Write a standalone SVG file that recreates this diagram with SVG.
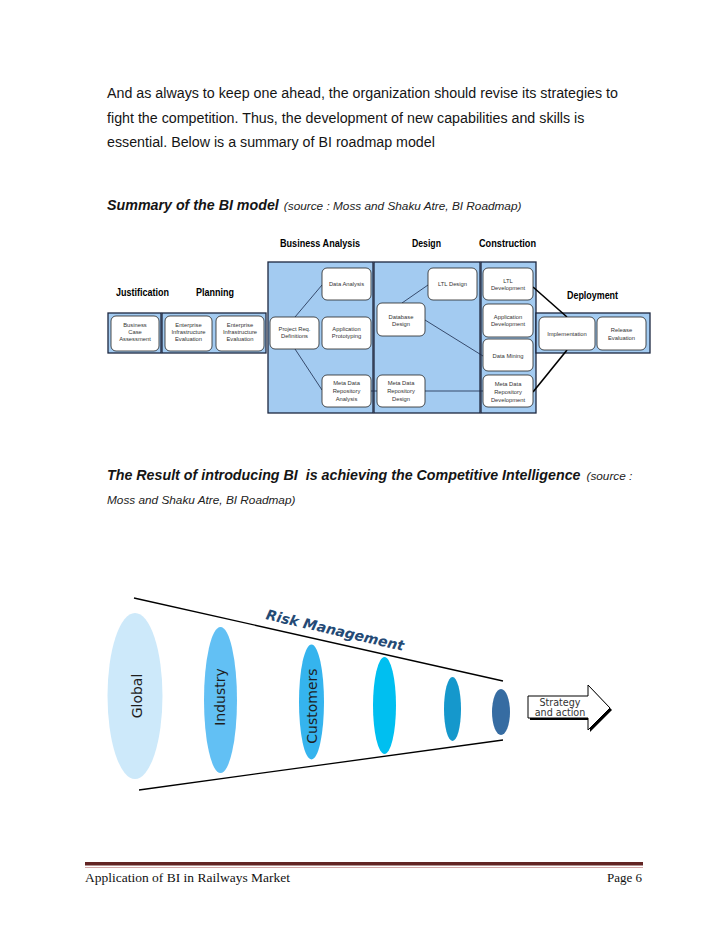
<svg xmlns="http://www.w3.org/2000/svg" width="728" height="942" viewBox="0 0 728 942">
<style>
.body{font-family:"Liberation Sans",Arial,sans-serif;font-size:14.25px;fill:#151515}
.cap{font-family:"Liberation Sans",Arial,sans-serif;font-weight:bold;font-style:italic;font-size:14.25px;fill:#151515}
.src{font-family:"Liberation Sans",Arial,sans-serif;font-style:italic;font-size:11.8px;fill:#222}
.hdr{font-family:"Liberation Sans",Arial,sans-serif;font-weight:bold;font-size:10px;fill:#000}
.panel{fill:#a3cbf1;stroke:#1c2740;stroke-width:1.3}
.node rect{fill:#fff;stroke:#222;stroke-width:0.8}
.node text{font-family:"Liberation Sans",Arial,sans-serif;font-size:5.8px;fill:#333;text-anchor:middle}
.conn line{stroke:#1a2a4a;stroke-width:0.8}
.conn line.thick{stroke:#000;stroke-width:1.6}
.cone{stroke:#000;stroke-width:1.3}
.lab{font-family:"DejaVu Sans",Verdana,sans-serif;font-size:14px;fill:#1e1e1e;text-anchor:middle}
.foot{font-family:"Liberation Serif","DejaVu Serif",serif;font-size:13px;fill:#111}
</style>

<!-- intro paragraph -->
<text class="body" x="107" y="98">And as always to keep one ahead, the organization should revise its strategies to</text>
<text class="body" x="107" y="123">fight the competition. Thus, the development of new capabilities and skills is</text>
<text class="body" x="107" y="147">essential. Below is a summary of BI roadmap model</text>

<text x="107" y="210"><tspan class="cap">Summary of the BI model</tspan><tspan class="src" dx="5">(source : Moss and Shaku Atre, BI Roadmap)</tspan></text>

<!-- BI model panels -->
<g id="panels">
<rect class="panel" x="108" y="313" width="53" height="40"/>
<rect class="panel" x="162" y="313" width="104" height="40"/>
<rect class="panel" x="268" y="262" width="105" height="151"/>
<rect class="panel" x="374" y="262" width="106" height="151"/>
<rect class="panel" x="481" y="262" width="55" height="151"/>
<rect class="panel" x="536" y="313" width="114" height="40"/>
</g>

<g id="headers">
<text class="hdr" x="116" y="296" textLength="53" lengthAdjust="spacingAndGlyphs">Justification</text>
<text class="hdr" x="196" y="296" textLength="38" lengthAdjust="spacingAndGlyphs">Planning</text>
<text class="hdr" x="280" y="247" textLength="80" lengthAdjust="spacingAndGlyphs">Business Analysis</text>
<text class="hdr" x="412" y="247" textLength="29" lengthAdjust="spacingAndGlyphs">Design</text>
<text class="hdr" x="479" y="247" textLength="57" lengthAdjust="spacingAndGlyphs">Construction</text>
<text class="hdr" x="567" y="299" textLength="51" lengthAdjust="spacingAndGlyphs">Deployment</text>
</g>

<g id="connectors" class="conn">
<line x1="295" y1="317" x2="322" y2="285"/>
<line x1="295" y1="349" x2="322" y2="390"/>
<line x1="402" y1="303" x2="428" y2="285"/>
<line x1="425" y1="320" x2="483" y2="356"/>
<line x1="371" y1="391" x2="377" y2="391"/>
<line x1="425" y1="391" x2="483" y2="391"/>
<line class="thick" x1="533" y1="287" x2="567" y2="317"/>
<line class="thick" x1="533" y1="392" x2="567" y2="350"/>
</g>

<g id="n-bca" class="node"><rect x="111" y="316" width="48" height="35" rx="5"/><text x="135" y="327">Business</text><text x="135" y="334">Case</text><text x="135" y="341">Assessment</text></g>
<g id="n-eie1" class="node"><rect x="165" y="316" width="47" height="35" rx="5"/><text x="188.5" y="327">Enterprise</text><text x="188.5" y="334">Infrastructure</text><text x="188.5" y="341">Evaluation</text></g>
<g id="n-eie2" class="node"><rect x="216" y="316" width="48" height="35" rx="5"/><text x="240" y="327">Enterprise</text><text x="240" y="334">Infrastructure</text><text x="240" y="341">Evaluation</text></g>
<g id="n-prd" class="node"><rect x="270" y="317" width="49" height="32" rx="5"/><text x="294.5" y="331">Project Req.</text><text x="294.5" y="338">Definitions</text></g>
<g id="n-da" class="node"><rect x="322" y="268" width="49" height="32" rx="5"/><text x="346.5" y="286">Data Analysis</text></g>
<g id="n-ap" class="node"><rect x="322" y="317" width="49" height="32" rx="5"/><text x="346.5" y="331">Application</text><text x="346.5" y="338">Prototyping</text></g>
<g id="n-mdra" class="node"><rect x="322" y="375" width="49" height="32" rx="5"/><text x="346.5" y="385">Meta Data</text><text x="346.5" y="393">Repository</text><text x="346.5" y="401">Analysis</text></g>
<g id="n-dd" class="node"><rect x="377" y="303" width="48" height="33" rx="5"/><text x="401" y="319">Database</text><text x="401" y="326">Design</text></g>
<g id="n-ltld" class="node"><rect x="428" y="268" width="49" height="32" rx="5"/><text x="452.5" y="286">LTL Design</text></g>
<g id="n-mdrd" class="node"><rect x="377" y="375" width="48" height="32" rx="5"/><text x="401" y="385">Meta Data</text><text x="401" y="393">Repository</text><text x="401" y="401">Design</text></g>
<g id="n-ltldev" class="node"><rect x="483" y="268" width="50" height="32" rx="5"/><text x="508" y="283">LTL</text><text x="508" y="290">Development</text></g>
<g id="n-appdev" class="node"><rect x="483" y="304" width="50" height="33" rx="5"/><text x="508" y="319">Application</text><text x="508" y="326">Development</text></g>
<g id="n-dm" class="node"><rect x="483" y="339" width="50" height="32" rx="5"/><text x="508" y="358">Data Mining</text></g>
<g id="n-mdrdev" class="node"><rect x="483" y="375" width="50" height="32" rx="5"/><text x="508" y="386">Meta Data</text><text x="508" y="394">Repository</text><text x="508" y="402">Development</text></g>
<g id="n-impl" class="node"><rect x="539" y="317" width="56" height="33" rx="5"/><text x="567" y="336">Implementation</text></g>
<g id="n-rel" class="node"><rect x="597" y="317" width="49" height="33" rx="5"/><text x="621.5" y="332">Release</text><text x="621.5" y="340">Evaluation</text></g>

<!-- second caption -->
<text x="107" y="480" xml:space="preserve"><tspan class="cap">The Result of introducing BI  is achieving the Competitive Intelligence</tspan><tspan class="src" dx="6">(source :</tspan></text>
<text class="src" x="107" y="504">Moss and Shaku Atre, BI Roadmap)</text>

<!-- cone -->
<g id="cone-lines">
<line class="cone" x1="134" y1="598" x2="503" y2="681"/>
<line class="cone" x1="139" y1="790" x2="503" y2="740"/>
</g>
<text transform="translate(334,635) rotate(13)" font-family="DejaVu Sans,Verdana,sans-serif" font-weight="bold" font-style="italic" font-size="14" fill="#244a75" text-anchor="middle">Risk Management</text>

<g id="e-global"><ellipse cx="135" cy="696" rx="27.5" ry="83" fill="#cde9fa"/><text class="lab" transform="translate(142,696) rotate(-90)">Global</text></g>
<g id="e-industry"><ellipse cx="220.5" cy="700" rx="16.5" ry="73" fill="#62c0f4"/><text class="lab" transform="translate(225,697) rotate(-90)">Industry</text></g>
<g id="e-customers"><ellipse cx="311.5" cy="702" rx="12.5" ry="57.5" fill="#35b4ee"/><text class="lab" transform="translate(317,706) rotate(-90)">Customers</text></g>
<g id="e-4"><ellipse cx="384.5" cy="705.5" rx="11.5" ry="48.5" fill="#00bff0"/></g>
<g id="e-5"><ellipse cx="452.5" cy="709" rx="8.5" ry="32" fill="#1598cc"/></g>
<g id="e-6"><ellipse cx="501" cy="712" rx="9" ry="23" fill="#366ca2"/></g>

<g id="arrow">
<polygon points="530,698 590,698 590,687 612,710 590,732 590,720 530,720" fill="#000"/>
<polygon points="528,696 588,696 588,685 610,708 588,730 588,718 528,718" fill="#fff" stroke="#000" stroke-width="1"/>
<text x="560" y="706" font-family="DejaVu Sans,Verdana,sans-serif" font-size="9.6" fill="#333" text-anchor="middle">Strategy</text>
<text x="560" y="716" font-family="DejaVu Sans,Verdana,sans-serif" font-size="9.6" fill="#333" text-anchor="middle">and action</text>
</g>

<!-- footer -->
<rect x="85" y="862" width="558" height="3.5" fill="#622423"/>
<line x1="85" y1="867.5" x2="643" y2="867.5" stroke="#d3a9a9" stroke-width="1"/>
<text class="foot" x="85" y="882" textLength="205" lengthAdjust="spacingAndGlyphs">Application of BI in Railways Market</text>
<text class="foot" x="642" y="882" text-anchor="end">Page 6</text>
</svg>
